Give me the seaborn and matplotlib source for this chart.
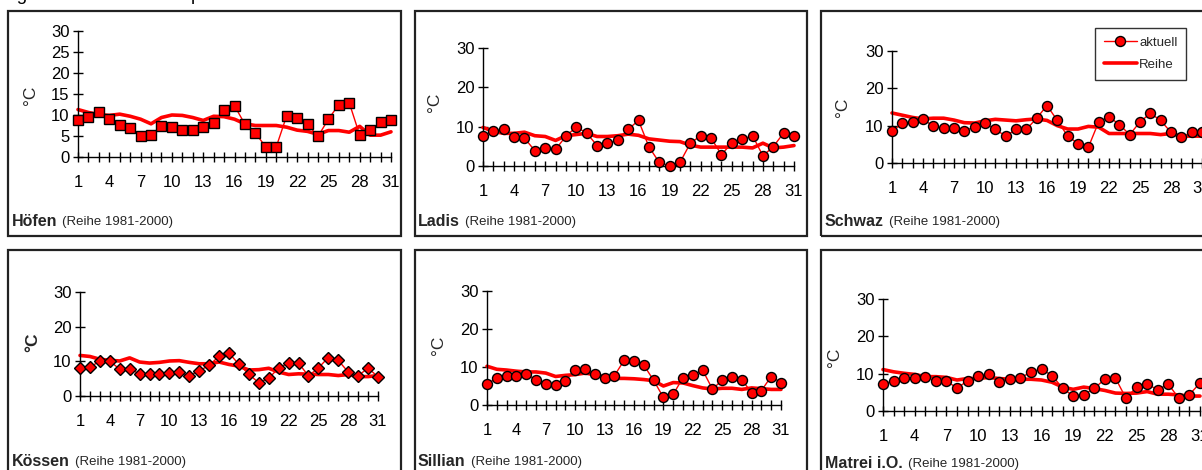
import matplotlib
matplotlib.use("Agg")
import matplotlib.pyplot as plt
from matplotlib.patches import Rectangle
from matplotlib.lines import Line2D
import seaborn as sns

# ---------------- data ----------------
days = list(range(1, 32))
xtick_labels = [1, 4, 7, 10, 13, 16, 19, 22, 25, 28, 31]

hoefen_aktuell = [8.7, 9.5, 10.7, 9.0, 7.6, 6.8, 4.9, 5.2, 7.4, 7.1, 6.4, 6.4, 7.1, 8.0, 11.3,
                  12.2, 7.8, 5.7, 2.4, 2.4, 9.8, 9.2, 7.8, 4.9, 9.0, 12.5, 12.9, 5.2, 6.4, 8.3, 8.7]
hoefen_reihe = [11.3, 10.6, 10.1, 9.9, 10.2, 9.7, 9.0, 7.9, 9.4, 10.0, 9.9, 9.4, 8.7, 9.7, 9.6,
                9.0, 7.9, 7.5, 7.5, 7.5, 7.1, 6.4, 6.1, 5.4, 6.3, 6.3, 5.9, 7.3, 5.2, 5.2, 6.0]

ladis_aktuell = [7.6, 9.0, 9.3, 7.5, 7.1, 3.9, 4.6, 4.2, 7.6, 9.9, 8.4, 5.2, 5.8, 6.5, 9.3,
                 11.6, 4.9, 0.9, 0.0, 0.9, 5.8, 7.7, 7.1, 2.9, 5.8, 6.8, 7.7, 2.6, 4.9, 8.4, 7.7]
ladis_reihe = [9.8, 8.8, 8.3, 8.3, 8.6, 7.7, 7.5, 6.5, 7.7, 8.0, 8.3, 7.5, 7.5, 7.7, 8.1,
               7.8, 6.9, 6.6, 6.3, 6.2, 5.3, 4.8, 4.8, 4.8, 4.8, 4.8, 4.6, 5.8, 4.6, 4.8, 5.2]

schwaz_aktuell = [8.5, 10.6, 10.9, 11.7, 9.9, 9.3, 9.3, 8.7, 9.6, 10.6, 9.0, 7.2, 9.0, 9.0, 12.0,
                  15.4, 11.4, 7.2, 5.2, 4.2, 11.0, 12.4, 10.3, 7.6, 11.0, 13.3, 11.4, 8.2, 7.0, 8.2, 8.2]
schwaz_reihe = [13.4, 12.8, 12.2, 11.8, 12.0, 12.0, 11.5, 10.8, 10.7, 11.3, 11.7, 11.5, 11.3, 11.6, 11.8,
                11.4, 10.0, 9.1, 9.1, 9.8, 9.6, 7.9, 7.9, 7.9, 7.9, 7.9, 7.6, 7.9, 7.2, 7.2, 7.2]

koessen_aktuell = [8.1, 8.3, 10.1, 10.1, 7.7, 7.9, 6.3, 6.3, 6.3, 6.5, 6.9, 5.8, 7.3, 8.8, 11.5,
                   12.4, 9.1, 6.3, 3.8, 5.1, 8.1, 9.5, 9.5, 5.8, 8.1, 11.1, 10.3, 6.9, 5.8, 8.1, 5.5]
koessen_reihe = [11.7, 11.4, 10.6, 10.3, 10.1, 11.0, 9.8, 9.5, 9.7, 10.1, 10.2, 9.7, 9.3, 9.3, 9.8,
                 9.1, 8.6, 7.5, 7.6, 8.0, 6.9, 6.2, 6.4, 6.3, 6.2, 6.2, 5.9, 6.2, 5.6, 5.6, 5.9]

sillian_aktuell = [5.5, 7.1, 7.7, 7.7, 8.1, 6.7, 5.5, 5.2, 6.4, 9.2, 9.4, 8.1, 7.2, 7.7, 11.8,
                   11.5, 10.5, 6.5, 2.0, 2.8, 7.2, 7.8, 9.2, 4.2, 6.5, 7.4, 6.7, 3.2, 3.8, 7.5, 5.9]
sillian_reihe = [10.2, 9.4, 9.2, 8.9, 8.7, 8.7, 8.4, 7.5, 7.8, 8.0, 8.4, 8.0, 7.4, 7.0, 7.0,
                 6.9, 6.7, 6.4, 5.0, 5.9, 5.8, 5.1, 4.5, 4.2, 4.4, 4.4, 4.1, 4.5, 4.3, 4.1, 4.1]

matrei_aktuell = [7.2, 8.1, 8.8, 8.8, 9.1, 8.1, 8.1, 6.1, 8.1, 9.5, 9.8, 7.8, 8.5, 8.8, 10.5,
                  11.2, 9.5, 6.1, 4.0, 4.4, 6.1, 8.5, 8.8, 3.4, 6.4, 7.2, 5.7, 7.2, 3.4, 4.4, 7.5]
matrei_reihe = [11.1, 10.5, 10.1, 9.8, 9.2, 9.2, 9.0, 8.3, 8.7, 8.7, 9.0, 8.7, 8.5, 8.5, 8.5,
                8.3, 7.7, 6.4, 5.8, 6.4, 6.0, 5.5, 4.8, 4.7, 4.8, 5.2, 4.5, 4.5, 4.3, 4.0, 4.0]

stations = ["Höfen", "Ladis", "Schwaz", "Kössen", "Sillian", "Matrei i.O."]
series_note = "(Reihe 1981-2000)"
legend_labels = ["aktuell", "Reihe"]
ylabel_text = "°C"
title_text = "Tagesmittel der Lufttemperatur"

# ---------------- style ----------------
sns.set_style("ticks")
plt.rcParams["font.family"] = ["Liberation Sans", "DejaVu Sans"]

W, H = 1202, 470
fig = plt.figure(figsize=(W / 100, H / 100), dpi=100)
fig.patch.set_facecolor("white")

RED = "#ff0000"


def fx(x):
    return x / W


def fy(y):
    return 1 - y / H


# pixel layout (left, top, right, bottom) of boxes; axes: x(day1), x(day31), y(0), y(30)
layout = [
    dict(aktuell=hoefen_aktuell, reihe=hoefen_reihe, marker="s", ms=7.3, box=(8, 11, 401, 236),
         ax=(78, 391, 157, 31), yticks=[0, 5, 10, 15, 20, 25, 30], ylab=(30, 95), lab=(12, 221), ylbold=False),
    dict(aktuell=ladis_aktuell, reihe=ladis_reihe, marker="o", ms=7.2, box=(415, 11, 807, 236),
         ax=(483, 794, 166, 48), yticks=[0, 10, 20, 30], ylab=(435, 102), lab=(418, 221), ylbold=False),
    dict(aktuell=schwaz_aktuell, reihe=schwaz_reihe, marker="o", ms=7.2, box=(821, 11, 1215, 236),
         ax=(892, 1202, 163, 51), yticks=[0, 10, 20, 30], ylab=(842, 107), lab=(825, 221), ylbold=False),
    dict(aktuell=koessen_aktuell, reihe=koessen_reihe, marker="D", ms=6.3, box=(8, 250, 401, 480),
         ax=(80, 378, 396, 292), yticks=[0, 10, 20, 30], ylab=(33, 342), lab=(12, 462), ylbold=True),
    dict(aktuell=sillian_aktuell, reihe=sillian_reihe, marker="o", ms=7.2, box=(415, 250, 807, 480),
         ax=(487, 781, 405, 291), yticks=[0, 10, 20, 30], ylab=(438, 345), lab=(418, 462), ylbold=False),
    dict(aktuell=matrei_aktuell, reihe=matrei_reihe, marker="o", ms=7.2, box=(821, 250, 1215, 480),
         ax=(883, 1200, 411, 299), yticks=[0, 10, 20, 30], ylab=(834, 357), lab=(825, 463), ylbold=False),
]

# title (cut off at top in the reference: only descenders visible)
fig.text(fx(-3), fy(0.0), title_text, fontsize=13.5, ha="left", va="baseline", color="black")

axes = []
for name, p in zip(stations, layout):
    l, t, r, b = p["box"]
    fig.add_artist(Rectangle((fx(l), fy(b)), fx(r - l), (b - t) / H, transform=fig.transFigure,
                             fill=False, edgecolor="#222222", linewidth=1.6, zorder=0))
    x0, x1, y0, y30 = p["ax"]
    ax = fig.add_axes([fx(x0), fy(y0), fx(x1 - x0), (y0 - y30) / H])
    ax.patch.set_alpha(0)
    axes.append(ax)

    sns.lineplot(x=days, y=p["reihe"], ax=ax, color=RED, linewidth=2.6, clip_on=False,
                 label=legend_labels[1], legend=False, zorder=2)
    sns.lineplot(x=days, y=p["aktuell"], ax=ax, color=RED, linewidth=1.0, marker=p["marker"],
                 markersize=p["ms"], markeredgecolor="black", markeredgewidth=1.0,
                 markerfacecolor=RED, clip_on=False, label=legend_labels[0], legend=False, zorder=3)

    ax.set_xlim(1, 31)
    ax.set_ylim(0, 30)
    ax.set_xticks(days)
    ax.set_xticklabels([str(d) if d in xtick_labels else "" for d in days])
    ax.set_yticks(p["yticks"])
    ax.set_yticklabels([str(v) for v in p["yticks"]])
    sns.despine(ax=ax)
    for s in ("left", "bottom"):
        ax.spines[s].set_color("black")
        ax.spines[s].set_linewidth(1.0)
    ax.tick_params(axis="x", direction="inout", length=7.5, width=1.0, pad=9.0,
                   labelsize=12, colors="black")
    ax.tick_params(axis="y", direction="inout", length=6.5, width=1.0, pad=3.0,
                   labelsize=12, colors="black")
    ax.set_xlabel("")
    ax.set_ylabel(ylabel_text, fontsize=12.5, fontweight="bold" if p["ylbold"] else "normal")
    ax.yaxis.set_label_coords(fx(p["ylab"][0]), fy(p["ylab"][1]), transform=fig.transFigure)
    ax.yaxis.label.set_verticalalignment("center")
    ax.yaxis.label.set_horizontalalignment("center")
    ax.grid(False)

# station labels
fig.canvas.draw()
renderer = fig.canvas.get_renderer()
for name, p in zip(stations, layout):
    lx, ly = p["lab"]
    t1 = fig.text(fx(lx), fy(ly), name, fontsize=11.5, fontweight="bold", ha="left", va="center")
    bb = t1.get_window_extent(renderer=renderer)
    fig.text(fx(bb.x1 + 5), fy(ly + 0.5), series_note, fontsize=9.5, ha="left", va="center")

# legend in the Schwaz panel
handles = [
    Line2D([], [], color=RED, linewidth=1.0, marker="o", markersize=7.2, markerfacecolor=RED,
           markeredgecolor="black", markeredgewidth=1.0),
    Line2D([], [], color=RED, linewidth=2.6),
]
leg = fig.legend(handles, legend_labels, loc="upper left", bbox_to_anchor=(fx(1095), fy(28)),
                 bbox_transform=fig.transFigure, frameon=True, fancybox=False, fontsize=9.5,
                 handlelength=2.5, handletextpad=0.2, labelspacing=0.75, borderpad=0.65,
                 borderaxespad=0, markerscale=1.0)
leg.get_frame().set_edgecolor("black")
leg.get_frame().set_linewidth(1.0)

fig.savefig("out.png", dpi=100)
